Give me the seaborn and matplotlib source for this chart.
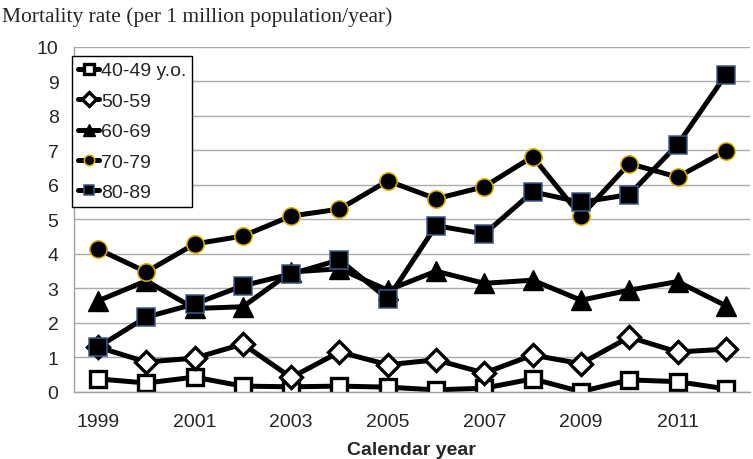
import matplotlib
matplotlib.use("Agg")
import matplotlib.pyplot as plt
import seaborn as sns

years = list(range(1999, 2013))
age_40_49 = [0.38, 0.26, 0.43, 0.17, 0.15, 0.17, 0.14, 0.06, 0.11, 0.38, 0.01, 0.35, 0.30, 0.09]
age_50_59 = [1.30, 0.87, 0.98, 1.39, 0.42, 1.16, 0.79, 0.93, 0.55, 1.07, 0.82, 1.59, 1.16, 1.24]
age_60_69 = [2.64, 3.22, 2.42, 2.47, 3.48, 3.57, 2.95, 3.50, 3.15, 3.24, 2.66, 2.95, 3.20, 2.50]
age_70_79 = [4.14, 3.48, 4.29, 4.52, 5.10, 5.30, 6.12, 5.60, 5.95, 6.82, 5.10, 6.62, 6.23, 6.99]
age_80_89 = [1.30, 2.17, 2.55, 3.08, 3.42, 3.83, 2.70, 4.82, 4.58, 5.80, 5.50, 5.72, 7.17, 9.19]
labels = ["40-49 y.o.", "50-59", "60-69", "70-79", "80-89"]

series = [age_40_49, age_50_59, age_60_69, age_70_79, age_80_89]
styles = [
    dict(marker="s", markerfacecolor="white", markeredgecolor="black", markersize=11.5, markeredgewidth=2.4),
    dict(marker="D", markerfacecolor="white", markeredgecolor="black", markersize=11.5, markeredgewidth=2.4),
    dict(marker="^", markerfacecolor="black", markeredgecolor="black", markersize=15, markeredgewidth=1),
    dict(marker="o", markerfacecolor="black", markeredgecolor="#e0b000", markersize=12.5, markeredgewidth=1.1),
    dict(marker="s", markerfacecolor="black", markeredgecolor="#3a5a8c", markersize=12.5, markeredgewidth=1.1),
]

sns.set_style("white")
plt.rcParams['font.family'] = ['Liberation Sans', 'DejaVu Sans']

fig = plt.figure(figsize=(7.53, 4.60), dpi=100)
ax = fig.add_axes([0.098, 0.1457, 0.898, 0.75])

for vals, lab, st in zip(series, labels, styles):
    sns.lineplot(x=years, y=vals, ax=ax, color="black", linewidth=3.6, label=lab, **st)

ax.set_xlim(1998.5, 2012.5)
ax.set_ylim(0, 10)
ax.set_yticks(range(0, 11))
ax.set_xticks(range(1999, 2013, 2))
ax.set_xticks([y + 0.5 for y in range(1998, 2013)], minor=True)
ax.tick_params(axis="x", which="major", length=0, labelsize=14, pad=15)
ax.tick_params(axis="x", which="minor", length=7, width=1, color="#a0a0a0", direction="out")
ax.tick_params(axis="y", length=7, width=1, color="#a0a0a0", labelsize=14, pad=4)
ax.yaxis.grid(True, color="#ababab", linewidth=1)
ax.set_axisbelow(True)
for s in ["top", "right"]:
    ax.spines[s].set_visible(False)
for s in ["left", "bottom"]:
    ax.spines[s].set_color("#a0a0a0")
    ax.spines[s].set_linewidth(1)

ax.set_xlabel("Calendar year", fontsize=14, fontweight="bold", labelpad=8)
ax.set_ylabel("")

fig.text(0.003, 0.963, "Mortality rate (per 1 million population/year)",
         family=["Liberation Serif"], fontsize=15.5, va="center", ha="left")

leg = ax.legend(loc="upper left", bbox_to_anchor=(0.0956, 0.876), bbox_transform=fig.transFigure,
                borderaxespad=0, fontsize=14, frameon=True, fancybox=False,
                handlelength=1.1, handletextpad=0.1, labelspacing=0.66, borderpad=0.3,
                markerscale=0.6)
leg.get_frame().set_edgecolor("black")
leg.get_frame().set_linewidth(1)
leg.get_frame().set_alpha(1)

fig.savefig("out.png", dpi=100)
